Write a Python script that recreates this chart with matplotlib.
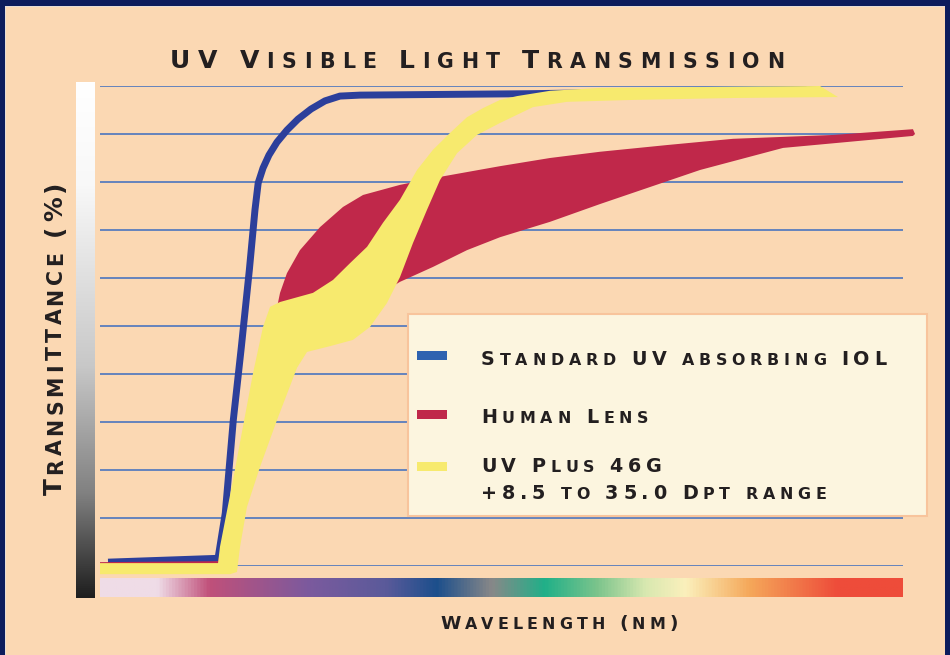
import numpy as np
import matplotlib
matplotlib.use('Agg')
import matplotlib.pyplot as plt
from matplotlib.colors import LinearSegmentedColormap
from matplotlib.font_manager import FontProperties
from matplotlib.patches import Rectangle

W, H, DPI = 950, 655, 100
FONT = 'DejaVu Sans'
INK = '#231f20'
BG = '#fbd8b3'

# --- data: wavelength (nm) vs transmittance (%) ---
# Standard UV absorbing IOL
iol_nm = [305, 373.5, 378, 383, 388, 393, 396.5, 398.5, 401.5, 405.2, 410.2, 416.4, 423.3,
          431.4, 440.1, 449.4, 461.9, 568, 740]
iol_pct = [0.8, 1.6, 11, 30.4, 45.6, 61.7, 74.2, 79.8, 82.9, 85.6, 88.3, 90.8, 93.1,
           95.2, 96.9, 97.9, 98.1, 98.4, 99.2]

# UV Plus 46G band (upper and lower edge)
plus_hi_nm = [300, 373.5, 374.7, 382.8, 389, 395.3, 401.5, 405.9, 412.1, 432.6, 445.1,
              455.7, 466.3, 476.2, 486.8, 497.4, 507.3, 517.9, 528.5, 538.5, 549.1,
              559.7, 580.2, 611.3, 748.3]
plus_hi_pct = [0.6, 0.6, 4, 17.9, 29, 40.2, 49.8, 54, 55, 56.9, 59.6,
               63.1, 66.5, 71.5, 76.3, 82.5, 86.7, 90.2, 93.5, 95.4, 97.1,
               97.9, 99, 99.6, 100]
plus_lo_nm = [300, 381, 385.3, 387.2, 391.5, 399.6, 410.2, 422.7, 428.9, 443.2, 457.5,
              468.1, 478.7, 486.8, 494.9, 503.6, 511.7, 522.3, 534.7, 549.1, 569.6,
              590.8, 631.9, 694.2, 759.5]
plus_lo_pct = [-1.7, -1.7, -1.25, 4, 12.3, 20.6, 30.4, 41.3, 44.6, 45.8, 47.1,
               49.8, 54.8, 60.2, 67.3, 74.2, 80.4, 86, 89.8, 92.3, 95.6,
               96.7, 97.1, 97.5, 97.7]

# Human lens band (upper and lower edge)
lens_hi_nm = [300, 373.5, 410.8, 412.1, 416.4, 424.5, 437, 451.3, 463.8, 486.8, 507.3,
              549.1, 580.2, 611.3, 653.1, 694.2, 756.4, 806.2, 807.5]
lens_hi_pct = [0.8, 1.0, 54.8, 56.9, 61, 65.8, 70.6, 74.8, 77.3, 79.4, 80.8,
               83.3, 85, 86.3, 87.7, 89, 89.8, 91, 90]
lens_lo_nm = [300, 374, 385, 395, 410, 443.2, 468.1, 486.8, 507.3, 528.5, 549.1, 580.2,
              611.3, 673.6, 725.3, 806.2]
lens_lo_pct = [0.3, 0.5, 3, 25, 40, 50, 55.4, 59.2, 62.3, 65.8, 68.5, 71.7,
               75.4, 82.5, 87.1, 89.6]

grid_pct = np.arange(0, 101, 10)

labels = ['Standard UV absorbing IOL', 'Human Lens', 'UV Plus 46G\n+8.5 to 35.0 Dpt range']
line_blue = '#2c3f9b'
key_colors = ['#2e62b0', '#c0284a', '#f7ea6e']

# spectrum strip under the axis
spec_pos = [0, 0.07, 0.135, 0.26, 0.356, 0.419, 0.488, 0.554, 0.62, 0.68, 0.73, 0.81, 0.92, 1]
spec_col = ['#efdce7', '#efdce7', '#c0507a', '#7b5a9e', '#5a5a9a', '#1c4f8c', '#888888',
            '#20b088', '#7cc48c', '#d8e8b0', '#fbf0bc', '#f5a85a', '#ee4c3a', '#ee4c3a']
gray_pos = [0, 0.2, 0.55, 0.8, 1]
gray_col = ['#ffffff', '#f8f8f8', '#c8c8c8', '#808080', '#1e1e1e']


def fx(x):
    return x / W


def fy(y):
    return 1 - y / H


fig = plt.figure(figsize=(W / DPI, H / DPI), dpi=DPI, facecolor=BG)

# main axes: 300..800 nm over px 100..903, 0..100 % over px 566..86
ax = fig.add_axes([fx(100), fy(566), fx(803), 480 / H])
ax.set_xlim(300, 800)
ax.set_ylim(0, 100)
ax.set_facecolor('none')
ax.axis('off')

ax.hlines(grid_pct, 300, 800, color='#3c6cc0', lw=1.1, zorder=1)
ax.plot(iol_nm, iol_pct, color=line_blue, lw=5, solid_capstyle='butt',
        solid_joinstyle='round', zorder=2, clip_on=False)
ax.fill(lens_hi_nm + lens_lo_nm[::-1], lens_hi_pct + lens_lo_pct[::-1],
        color=key_colors[1], lw=0, zorder=3, clip_on=False)
ax.fill(plus_hi_nm + plus_lo_nm[::-1], plus_hi_pct + plus_lo_pct[::-1],
        color=key_colors[2], lw=0, zorder=4, clip_on=False)

# gradient bars
gax = fig.add_axes([fx(76), fy(598), fx(19), 516 / H])
gax.imshow(np.linspace(0, 1, 256)[:, None], aspect='auto',
           cmap=LinearSegmentedColormap.from_list('g', list(zip(gray_pos, gray_col))))
gax.axis('off')
sax = fig.add_axes([fx(100), fy(597), fx(803), 19 / H])
sax.imshow(np.linspace(0, 1, 512)[None, :], aspect='auto',
           cmap=LinearSegmentedColormap.from_list('s', list(zip(spec_pos, spec_col))))
sax.axis('off')


def box(x0, y0, x1, y1, **kw):
    fig.add_artist(Rectangle((fx(x0), fy(y1)), fx(x1 - x0), (y1 - y0) / H,
                             transform=fig.transFigure, **kw))


# small-caps text with letter spacing (px units, y from top)
def spaced(x, y, text, big, small, track, center=False, rotation=0, weight='bold'):
    r = fig.canvas.get_renderer()
    items = [(c.upper(), small if c.islower() else big) for c in text]
    widths = []
    for c, s in items:
        if c == ' ':
            widths.append(0.3 * s * DPI / 72)
        else:
            fp = FontProperties(family=FONT, size=s, weight=weight)
            widths.append(r.get_text_width_height_descent(c, fp, ismath=False)[0])
    total = sum(widths) + track * (len(items) - 1)
    if rotation:
        pos = (H - y) - (total / 2 if center else 0)
    else:
        pos = x - (total / 2 if center else 0)
    for (c, s), w in zip(items, widths):
        if c != ' ':
            if rotation:
                fig.text(fx(x), pos / H, c, fontsize=s, family=FONT, color=INK,
                         weight=weight, rotation=90, rotation_mode='anchor',
                         ha='left', va='baseline')
            else:
                fig.text(fx(pos), fy(y), c, fontsize=s, family=FONT, color=INK,
                         weight=weight, ha='left', va='baseline')
        pos += w + track


spaced(477, 68, 'UV Visible Light Transmission', 18.1, 14.8, 7.4, center=True)
spaced(559, 629, 'Wavelength (nm)', 13.3, 11.4, 4.2, center=True)
spaced(62, 338, 'Transmittance (%)', 17.8, 14.8, 3.8, center=True, rotation=90)

# legend
box(408, 314, 927, 516, facecolor='#fcf5df', edgecolor='#f8c49c', lw=1.5)
key_y = [[365], [423], [472, 499]]
key_patch = [(351, 360), (410, 419), (462, 471)]
for lab, col, ys, (p0, p1) in zip(labels, key_colors, key_y, key_patch):
    box(417, p0, 447, p1, facecolor=col, edgecolor='none')
    for line, yb in zip(lab.split('\n'), ys):
        spaced(481, yb, line, 13.8, 11.4, 4.8)

# frame
navy = '#0c1c5c'
box(0, 0, 5, H, facecolor=navy, edgecolor='none')
box(0, 0, W, 6, facecolor=navy, edgecolor='none')
box(945, 0, W, H, facecolor=navy, edgecolor='none')
box(5, 6, 6, H, facecolor='#e6ddd6', edgecolor='none')
box(5, 6, 945, 7, facecolor='#e6ddd6', edgecolor='none')

fig.savefig('out.png', dpi=DPI, facecolor=BG)
